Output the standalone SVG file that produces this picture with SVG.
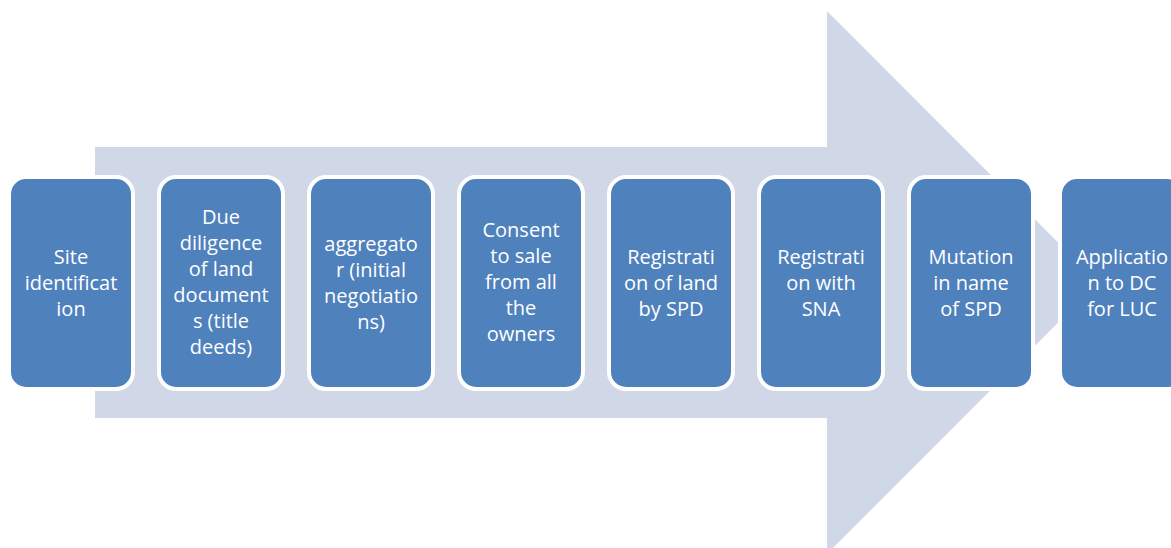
<svg xmlns="http://www.w3.org/2000/svg" width="1171" height="548" viewBox="0 0 1171 548">
<style>
.box{fill:#4F81BD;stroke:#FFFFFF;stroke-width:4}
.t{font-family:"Open Sans","Liberation Sans",sans-serif;font-size:20px;fill:#FFFFFF;text-anchor:middle}
</style>
<rect width="1171" height="548" fill="#FFFFFF"/>
<g id="connectors">
<path d="M95,147 H827 V11 L1098,282.5 L827,554 V418 H95 Z" fill="#D0D8E8"/>
</g>
<g id="n1"><rect class="box" x="9" y="177" width="124" height="212" rx="17"/>
<text class="t"><tspan x="71" y="264">Site</tspan><tspan x="71" y="290">identificat</tspan><tspan x="71" y="316">ion</tspan></text></g>
<g id="n2"><rect class="box" x="159" y="177" width="124" height="212" rx="17"/>
<text class="t"><tspan x="221" y="224">Due</tspan><tspan x="221" y="250">diligence</tspan><tspan x="221" y="276">of land</tspan><tspan x="221" y="302">document</tspan><tspan x="221" y="328">s (title</tspan><tspan x="221" y="354">deeds)</tspan></text></g>
<g id="n3"><rect class="box" x="309" y="177" width="124" height="212" rx="17"/>
<text class="t"><tspan x="371" y="251">aggregato</tspan><tspan x="371" y="277">r (initial</tspan><tspan x="371" y="303">negotiatio</tspan><tspan x="371" y="329">ns)</tspan></text></g>
<g id="n4"><rect class="box" x="459" y="177" width="124" height="212" rx="17"/>
<text class="t"><tspan x="521" y="237">Consent</tspan><tspan x="521" y="263">to sale</tspan><tspan x="521" y="289">from all</tspan><tspan x="521" y="315">the</tspan><tspan x="521" y="341">owners</tspan></text></g>
<g id="n5"><rect class="box" x="609" y="177" width="124" height="212" rx="17"/>
<text class="t"><tspan x="671" y="264">Registrati</tspan><tspan x="671" y="290">on of land</tspan><tspan x="671" y="316">by SPD</tspan></text></g>
<g id="n6"><rect class="box" x="759" y="177" width="124" height="212" rx="17"/>
<text class="t"><tspan x="821" y="264">Registrati</tspan><tspan x="821" y="290">on with</tspan><tspan x="821" y="316">SNA</tspan></text></g>
<g id="n7"><rect class="box" x="909" y="177" width="124" height="212" rx="17"/>
<text class="t"><tspan x="971" y="264">Mutation</tspan><tspan x="971" y="290">in name</tspan><tspan x="971" y="316">of SPD</tspan></text></g>
<g id="n8"><rect class="box" x="1060" y="177" width="124" height="212" rx="17"/>
<text class="t"><tspan x="1122" y="264">Applicatio</tspan><tspan x="1122" y="290">n to DC</tspan><tspan x="1122" y="316">for LUC</tspan></text></g>
</svg>
